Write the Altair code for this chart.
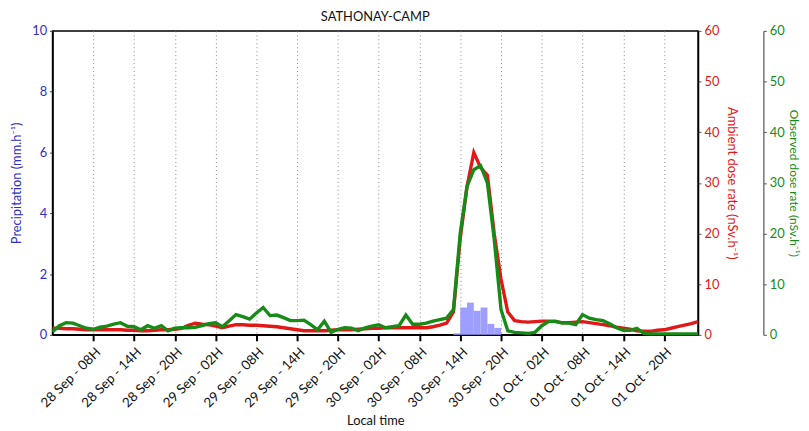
import altair as alt
import pandas as pd

# ---------------- data ----------------
start_time = "2014-09-28T02:00:00Z"
end_time = "2014-10-02T01:00:00Z"

ambient = [1.3, 1.3, 1.2, 1.2, 1.1, 1.0, 1.0, 1.0, 1.0, 1.0,
           1.0, 0.9, 0.9, 0.8, 0.8, 0.9, 1.0, 1.0, 1.1, 1.3,
           1.9, 2.3, 2.1, 2.0, 1.7, 1.4, 1.7, 2.0, 2.0, 1.9,
           1.9, 1.8, 1.7, 1.6, 1.4, 1.2, 1.0, 0.8, 0.8, 0.8,
           0.8, 0.9, 1.0, 1.0, 1.0, 1.1, 1.2, 1.3, 1.3, 1.4,
           1.4, 1.4, 1.4, 1.4, 1.4, 1.4, 1.6, 1.9, 2.3, 4.5,
           19.0, 29.3, 36.0, 33.0, 31.5, 20.0, 11.0, 4.5, 2.8, 2.6,
           2.5, 2.6, 2.7, 2.7, 2.6, 2.4, 2.4, 2.5, 2.6, 2.4,
           2.2, 2.0, 1.8, 1.5, 1.3, 1.1, 0.8, 0.7, 0.7, 0.9,
           1.0, 1.3, 1.6, 1.9, 2.2, 2.6]

observed = [0.6, 1.8, 2.4, 2.3, 1.8, 1.3, 1.1, 1.5, 1.7, 2.1,
            2.4, 1.7, 1.6, 1.0, 1.8, 1.3, 1.8, 0.8, 1.3, 1.4,
            1.4, 1.5, 1.8, 2.2, 2.4, 1.6, 2.8, 4.0, 3.6, 3.1,
            4.3, 5.4, 3.8, 3.9, 3.4, 2.8, 2.8, 2.9, 2.0, 1.0,
            2.7, 0.5, 1.1, 1.4, 1.3, 0.8, 1.4, 1.7, 2.0, 1.4,
            1.6, 1.8, 3.9, 2.1, 2.1, 2.3, 2.7, 3.0, 3.3, 5.0,
            20.0, 29.3, 32.6, 33.4, 30.0, 18.9, 5.0, 0.8, 0.5, 0.4,
            0.3, 0.5, 1.8, 2.6, 2.7, 2.3, 2.3, 2.0, 4.0, 3.3,
            3.0, 2.8, 2.2, 1.4, 0.9, 0.9, 1.3, 0.3, 0.2, 0.2,
            0.2, 0.2, 0.2, 0.2, 0.2, 0.2]

precip_start = ["2014-09-30T13:00:00Z", "2014-09-30T14:00:00Z", "2014-09-30T15:00:00Z",
                "2014-09-30T16:00:00Z", "2014-09-30T17:00:00Z", "2014-09-30T18:00:00Z",
                "2014-09-30T19:00:00Z"]
precip_end = ["2014-09-30T14:00:00Z", "2014-09-30T15:00:00Z", "2014-09-30T16:00:00Z",
              "2014-09-30T17:00:00Z", "2014-09-30T18:00:00Z", "2014-09-30T19:00:00Z",
              "2014-09-30T20:00:00Z"]
precip_vals = [0.05, 0.9, 1.06, 0.79, 0.9, 0.36, 0.23]

tick_times = ["2014-09-28T08:00:00Z", "2014-09-28T14:00:00Z", "2014-09-28T20:00:00Z",
              "2014-09-29T02:00:00Z", "2014-09-29T08:00:00Z", "2014-09-29T14:00:00Z",
              "2014-09-29T20:00:00Z", "2014-09-30T02:00:00Z", "2014-09-30T08:00:00Z",
              "2014-09-30T14:00:00Z", "2014-09-30T20:00:00Z", "2014-10-01T02:00:00Z",
              "2014-10-01T08:00:00Z", "2014-10-01T14:00:00Z", "2014-10-01T20:00:00Z"]

precip_ticks = [0, 2, 4, 6, 8, 10]
dose_ticks = [0, 10, 20, 30, 40, 50, 60]

# ---------------- build tables ----------------
def ms(s):
    return int(pd.Timestamp(s).timestamp() * 1000)

times = pd.date_range(start_time, periods=len(ambient), freq="h").strftime("%Y-%m-%dT%H:%M:%SZ")
lines_df = pd.DataFrame({"time": list(times), "ambient": ambient, "observed": observed})
precip_df = pd.DataFrame({"t0": precip_start, "t1": precip_end, "precip": precip_vals})

FONT = "Lato"
BLUE = "#3030c0"
RED = "#e01818"
GREEN = "#178a17"

x_scale = alt.Scale(type="utc", domain=[ms(start_time), ms(end_time)], nice=False)
x_axis = alt.Axis(
    values=[ms(t) for t in tick_times],
    labelExpr="utcFormat(datum.value, '%d %b - %HH')",
    labelAngle=315,
    labelOverlap=False,
    labelFontSize=13.5,
    labelColor="#111111",
    labelPadding=4,
    title="Local time",
    titleFontSize=13,
    titleFontWeight="normal",
    titleColor="#111111",
    titleAnchor="middle",
    titlePadding=5,
    grid=True,
    gridDash=[1, 3],
    gridColor="#888888",
    gridWidth=1,
    tickColor="black",
    tickWidth=2,
    tickSize=6,
    domainColor="black",
    domainWidth=1.5,
)

bars = alt.Chart(precip_df).mark_bar(color="#9999ff", opacity=0.95).encode(
    x=alt.X("t0:T", scale=x_scale, axis=x_axis),
    x2="t1:T",
    y=alt.Y("precip:Q",
            scale=alt.Scale(domain=[0, 10], nice=False),
            axis=alt.Axis(values=precip_ticks, title="Precipitation (mm.h⁻¹)", orient="left",
                          labelColor=BLUE, titleColor=BLUE, tickColor=BLUE, domainColor="black",
                          domainWidth=1.5, labelFontSize=13, titleFontSize=13,
                          titleFontWeight="normal", grid=False, tickSize=3, labelPadding=3,
                          titlePadding=8)),
    y2=alt.datum(0),
)

red = alt.Chart(lines_df).mark_line(color=RED, strokeWidth=3.4).encode(
    x=alt.X("time:T", scale=x_scale),
    y=alt.Y("ambient:Q",
            scale=alt.Scale(domain=[0, 60], nice=False),
            axis=alt.Axis(values=dose_ticks, title="Ambient dose rate (nSv.h⁻¹)", orient="right",
                          labelColor=RED, titleColor=RED, tickColor="#555555", domainColor="black",
                          domainWidth=1.5, labelFontSize=13, titleFontSize=13,
                          titleFontWeight="normal", grid=False, tickSize=3, labelPadding=3,
                          titlePadding=6)),
)

green = alt.Chart(lines_df).mark_line(color=GREEN, strokeWidth=3.4).encode(
    x=alt.X("time:T", scale=x_scale),
    y=alt.Y("observed:Q",
            scale=alt.Scale(domain=[0, 60], nice=False),
            axis=alt.Axis(values=dose_ticks, title="Observed dose rate (nSv.h⁻¹)", orient="right",
                          offset=66, labelColor=GREEN, titleColor=GREEN, tickColor="#555555",
                          domainColor="#555555", domainWidth=1.2, labelFontSize=13,
                          titleFontSize=12, titleFontWeight="normal", grid=False, tickSize=3,
                          labelPadding=3, titlePadding=2)),
)

chart = (
    alt.layer(bars, red, green)
    .resolve_scale(y="independent")
    .properties(
        width=652,
        height=307,
        title=alt.TitleParams("SATHONAY-CAMP", fontSize=13, fontWeight="normal", font=FONT,
                              color="#111111", offset=1),
        autosize=alt.AutoSizeParams(type="none"),
        padding={"left": 45, "top": 21, "right": 104, "bottom": 95},
    )
    .configure(font=FONT, background="white")
    .configure_axis(labelFont=FONT, titleFont=FONT)
    .configure_view(stroke="black", strokeWidth=1.5)
)

chart.save("out.html", embed_options={"renderer": "svg", "actions": False})
